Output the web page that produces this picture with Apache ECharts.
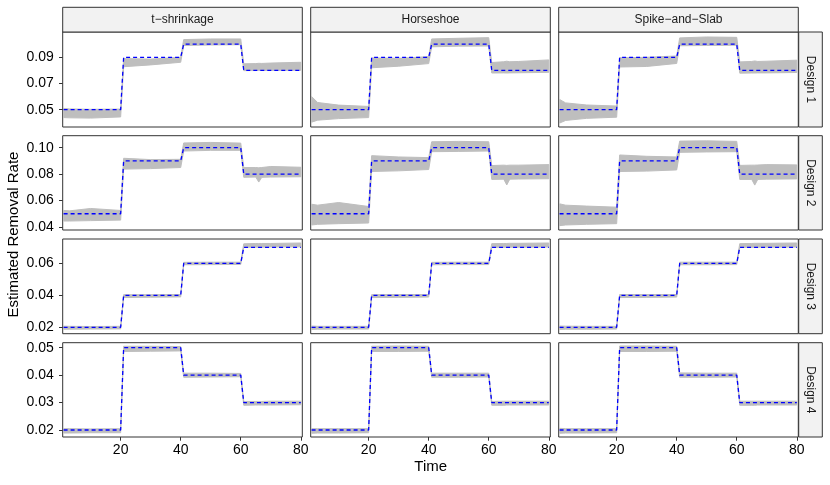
<!DOCTYPE html>
<html>
<head>
<meta charset="utf-8">
<title>Estimated Removal Rate</title>
<script src="https://cdn.jsdelivr.net/npm/echarts@6.0.0/dist/echarts.min.js"></script>
<style>
  html, body { margin: 0; padding: 0; background: #fff; }
  #main { width: 830px; height: 485px; }
</style>
</head>
<body>
<div id="main"></div>
<script>
// 面板标签
var methods = ['t\u2212shrinkage', 'Horseshoe', 'Spike\u2212and\u2212Slab']
var designs = ['Design 1', 'Design 2', 'Design 3', 'Design 4']

// 真实值（每段一个水平）
var segStart = [1, 21, 41, 61]
var segEnd = [20, 40, 60, 80]
var levelsD1 = [0.05, 0.09, 0.10, 0.08]
var levelsD2 = [0.05, 0.09, 0.10, 0.08]
var levelsD3 = [0.02, 0.04, 0.06, 0.07]
var levelsD4 = [0.02, 0.05, 0.04, 0.03]

// 坐标轴刻度和范围
var xTicks = [20, 40, 60, 80]
var yTicksD1 = [0.05, 0.07, 0.09]
var yTicksD2 = [0.04, 0.06, 0.08, 0.10]
var yTicksD3 = [0.02, 0.04, 0.06]
var yTicksD4 = [0.02, 0.03, 0.04, 0.05]
var yMinRows = [0.0368, 0.0377, 0.0160, 0.01745]
var yMaxRows = [0.1093, 0.1091, 0.0752, 0.0518]

// 灰色估计带（各次模拟的上下包络）
var knots = [1, 3, 10, 20, 21, 30, 40, 41, 50, 60, 61, 65, 66, 67, 70, 80]

var loD1T = [0.0440, 0.0438, 0.0436, 0.0445, 0.0828, 0.0842, 0.0862, 0.0990, 0.0994, 0.0996, 0.0798, 0.0799, 0.0800, 0.0800, 0.0800, 0.0801]
var hiD1T = [0.0510, 0.0506, 0.0503, 0.0505, 0.0890, 0.0886, 0.0900, 0.1035, 0.1040, 0.1040, 0.0850, 0.0852, 0.0854, 0.0853, 0.0856, 0.0862]
var loD1H = [0.0405, 0.0420, 0.0432, 0.0440, 0.0820, 0.0832, 0.0852, 0.0980, 0.0985, 0.0986, 0.0780, 0.0781, 0.0780, 0.0781, 0.0782, 0.0785]
var hiD1H = [0.0600, 0.0555, 0.0535, 0.0525, 0.0895, 0.0892, 0.0905, 0.1040, 0.1045, 0.1050, 0.0860, 0.0866, 0.0870, 0.0866, 0.0868, 0.0880]
var loD1S = [0.0398, 0.0418, 0.0434, 0.0443, 0.0826, 0.0830, 0.0853, 0.0988, 0.0990, 0.0992, 0.0779, 0.0780, 0.0780, 0.0781, 0.0781, 0.0784]
var hiD1S = [0.0578, 0.0552, 0.0536, 0.0528, 0.0896, 0.0900, 0.0910, 0.1048, 0.1055, 0.1052, 0.0865, 0.0868, 0.0872, 0.0868, 0.0870, 0.0878]

var loD2T = [0.0445, 0.0445, 0.0448, 0.0452, 0.0838, 0.0842, 0.0850, 0.0975, 0.0980, 0.0980, 0.0776, 0.0778, 0.0740, 0.0776, 0.0778, 0.0780]
var hiD2T = [0.0525, 0.0522, 0.0540, 0.0525, 0.0920, 0.0910, 0.0912, 0.1036, 0.1040, 0.1035, 0.0850, 0.0850, 0.0848, 0.0850, 0.0858, 0.0852]
var loD2H = [0.0415, 0.0420, 0.0425, 0.0430, 0.0820, 0.0825, 0.0835, 0.0970, 0.0972, 0.0975, 0.0760, 0.0762, 0.0718, 0.0762, 0.0763, 0.0765]
var hiD2H = [0.0572, 0.0565, 0.0585, 0.0555, 0.0940, 0.0930, 0.0925, 0.1045, 0.1048, 0.1045, 0.0865, 0.0868, 0.0866, 0.0868, 0.0868, 0.0872]
var loD2S = [0.0410, 0.0415, 0.0420, 0.0425, 0.0820, 0.0823, 0.0832, 0.0965, 0.0968, 0.0970, 0.0760, 0.0760, 0.0717, 0.0760, 0.0762, 0.0764]
var hiD2S = [0.0575, 0.0565, 0.0558, 0.0550, 0.0945, 0.0935, 0.0930, 0.1050, 0.1052, 0.1048, 0.0866, 0.0868, 0.0868, 0.0869, 0.0872, 0.0870]

var loD3T = [0.0188, 0.0188, 0.0189, 0.0190, 0.0386, 0.0388, 0.0390, 0.0591, 0.0592, 0.0593, 0.0700, 0.0701, 0.0701, 0.0701, 0.0702, 0.0703]
var hiD3T = [0.0207, 0.0206, 0.0205, 0.0206, 0.0404, 0.0404, 0.0405, 0.0606, 0.0607, 0.0607, 0.0722, 0.0724, 0.0724, 0.0724, 0.0724, 0.0727]
var loD3H = [0.0187, 0.0188, 0.0189, 0.0189, 0.0386, 0.0387, 0.0389, 0.0591, 0.0592, 0.0592, 0.0700, 0.0700, 0.0701, 0.0701, 0.0701, 0.0702]
var hiD3H = [0.0208, 0.0206, 0.0206, 0.0206, 0.0404, 0.0405, 0.0405, 0.0606, 0.0607, 0.0607, 0.0723, 0.0724, 0.0724, 0.0725, 0.0725, 0.0727]
var loD3S = [0.0187, 0.0188, 0.0188, 0.0189, 0.0386, 0.0387, 0.0389, 0.0591, 0.0591, 0.0592, 0.0700, 0.0700, 0.0700, 0.0701, 0.0701, 0.0702]
var hiD3S = [0.0208, 0.0207, 0.0206, 0.0206, 0.0405, 0.0405, 0.0405, 0.0607, 0.0607, 0.0607, 0.0723, 0.0724, 0.0725, 0.0725, 0.0725, 0.0727]

var loD4T = [0.0189, 0.0189, 0.0190, 0.0190, 0.0486, 0.0487, 0.0488, 0.0392, 0.0393, 0.0394, 0.0290, 0.0291, 0.0291, 0.0291, 0.0291, 0.0292]
var hiD4T = [0.0205, 0.0205, 0.0204, 0.0205, 0.0505, 0.0505, 0.0504, 0.0407, 0.0407, 0.0406, 0.0304, 0.0304, 0.0304, 0.0304, 0.0305, 0.0305]
var loD4H = [0.0188, 0.0189, 0.0189, 0.0190, 0.0486, 0.0486, 0.0487, 0.0392, 0.0392, 0.0393, 0.0290, 0.0290, 0.0291, 0.0291, 0.0291, 0.0291]
var hiD4H = [0.0205, 0.0205, 0.0205, 0.0205, 0.0505, 0.0506, 0.0505, 0.0407, 0.0407, 0.0407, 0.0304, 0.0305, 0.0305, 0.0305, 0.0305, 0.0305]
var loD4S = [0.0188, 0.0189, 0.0189, 0.0190, 0.0486, 0.0486, 0.0487, 0.0392, 0.0392, 0.0393, 0.0290, 0.0290, 0.0290, 0.0291, 0.0291, 0.0291]
var hiD4S = [0.0206, 0.0205, 0.0205, 0.0205, 0.0506, 0.0506, 0.0505, 0.0408, 0.0407, 0.0407, 0.0305, 0.0305, 0.0305, 0.0305, 0.0305, 0.0305]

var levels = [levelsD1, levelsD2, levelsD3, levelsD4]
var yTicks = [yTicksD1, yTicksD2, yTicksD3, yTicksD4]
var bandLo = [[loD1T, loD1H, loD1S], [loD2T, loD2H, loD2S], [loD3T, loD3H, loD3S], [loD4T, loD4H, loD4S]]
var bandHi = [[hiD1T, hiD1H, hiD1S], [hiD2T, hiD2H, hiD2S], [hiD3T, hiD3H, hiD3S], [hiD4T, hiD4H, hiD4S]]

// 布局
var FONT = '"Liberation Sans", Arial, Helvetica, sans-serif'
var colLeft = [62.7, 310.7, 558.7]
var colW = 239.6
var rowTop = [32, 135.7, 239, 342.7]
var rowH = [95, 94.3, 94.7, 94.3]
var stripX = 798.7, stripW = 23.6
var stripTop = 7.3, stripH = 24.7

function stepData(lv) {
    var d = []
    for (var i = 0; i < lv.length; i++) {
        d.push([segStart[i], lv[i]])
        d.push([segEnd[i], lv[i]])
    }
    return d
}

// 灰带多边形：上包络从左到右，下包络从右到左
function bandRenderer(lo, hi) {
    return function (params, api) {
        var pts = []
        for (var k = 0; k < knots.length; k++) pts.push(api.coord([knots[k], hi[k]]))
        for (var k = knots.length - 1; k >= 0; k--) pts.push(api.coord([knots[k], lo[k]]))
        return {
            type: 'polygon',
            shape: {points: pts},
            style: {fill: '#bebebe', stroke: '#bebebe', lineWidth: 1}
        }
    }
}

var grids = [], xAxes = [], yAxes = [], series = [], graphics = []

for (var r = 0; r < 4; r++) {
    for (var c = 0; c < 3; c++) {
        var g = r * 3 + c
        grids.push({
            left: colLeft[c], top: rowTop[r], width: colW, height: rowH[r],
            show: true, borderColor: '#333', borderWidth: 1, backgroundColor: '#fff'
        })
        xAxes.push({
            gridIndex: g, type: 'value', min: 0.7, max: 80.5,
            splitLine: {show: false}, axisLine: {show: false},
            axisTick: {show: r == 3, customValues: xTicks, length: 3.7, lineStyle: {color: '#333', width: 1}},
            axisLabel: {show: r == 3, customValues: xTicks, margin: 6, fontSize: 14, color: '#000', fontFamily: FONT}
        })
        yAxes.push({
            gridIndex: g, type: 'value', min: yMinRows[r], max: yMaxRows[r],
            splitLine: {show: false}, axisLine: {show: false},
            axisTick: {show: c == 0, customValues: yTicks[r], length: 3.7, lineStyle: {color: '#333', width: 1}},
            axisLabel: {
                show: c == 0, customValues: yTicks[r], margin: 9, fontSize: 14, color: '#000', fontFamily: FONT,
                formatter: function (v) { return v.toFixed(2) }
            }
        })

        var lo = bandLo[r][c], hi = bandHi[r][c]
        series.push({
            type: 'custom', xAxisIndex: g, yAxisIndex: g, silent: true, z: 2,
            data: [[knots[0], lo[0]]],
            renderItem: bandRenderer(lo, hi)
        })
        // 真实值虚线
        series.push({
            type: 'line', xAxisIndex: g, yAxisIndex: g, data: stepData(levels[r]),
            symbol: 'none', silent: true,
            lineStyle: {color: '#0000ff', width: 1.3, type: [4, 3]}, z: 3
        })
    }
}

// 顶部分面标签
for (var c = 0; c < 3; c++) {
    graphics.push({
        type: 'rect', shape: {x: colLeft[c], y: stripTop, width: colW, height: stripH},
        style: {fill: '#f2f2f2', stroke: '#333', lineWidth: 1}
    })
    graphics.push({
        type: 'text', x: colLeft[c] + colW / 2, y: stripTop + stripH / 2,
        style: {text: methods[c], align: 'center', verticalAlign: 'middle', fontSize: 12, fontFamily: FONT, fill: '#1a1a1a'}
    })
}
// 右侧分面标签
for (var r = 0; r < 4; r++) {
    graphics.push({
        type: 'rect', shape: {x: stripX, y: rowTop[r], width: stripW, height: rowH[r]},
        style: {fill: '#f2f2f2', stroke: '#333', lineWidth: 1}
    })
    graphics.push({
        type: 'text', x: stripX + stripW / 2, y: rowTop[r] + rowH[r] / 2, rotation: -Math.PI / 2,
        style: {text: designs[r], align: 'center', verticalAlign: 'middle', fontSize: 12, fontFamily: FONT, fill: '#1a1a1a'}
    })
}
// 轴标题
graphics.push({
    type: 'text', x: 14, y: 234.5, rotation: Math.PI / 2,
    style: {text: 'Estimated Removal Rate', align: 'center', verticalAlign: 'middle', fontSize: 15, fontFamily: FONT, fill: '#000'}
})
graphics.push({
    type: 'text', x: 430.7, y: 467,
    style: {text: 'Time', align: 'center', verticalAlign: 'middle', fontSize: 15, fontFamily: FONT, fill: '#000'}
})

var myChart = echarts.init(document.getElementById('main'), null, {renderer: 'canvas'})
myChart.setOption({
    animation: false,
    backgroundColor: '#fff',
    grid: grids,
    xAxis: xAxes,
    yAxis: yAxes,
    series: series,
    graphic: graphics
})
</script>
</body>
</html>
